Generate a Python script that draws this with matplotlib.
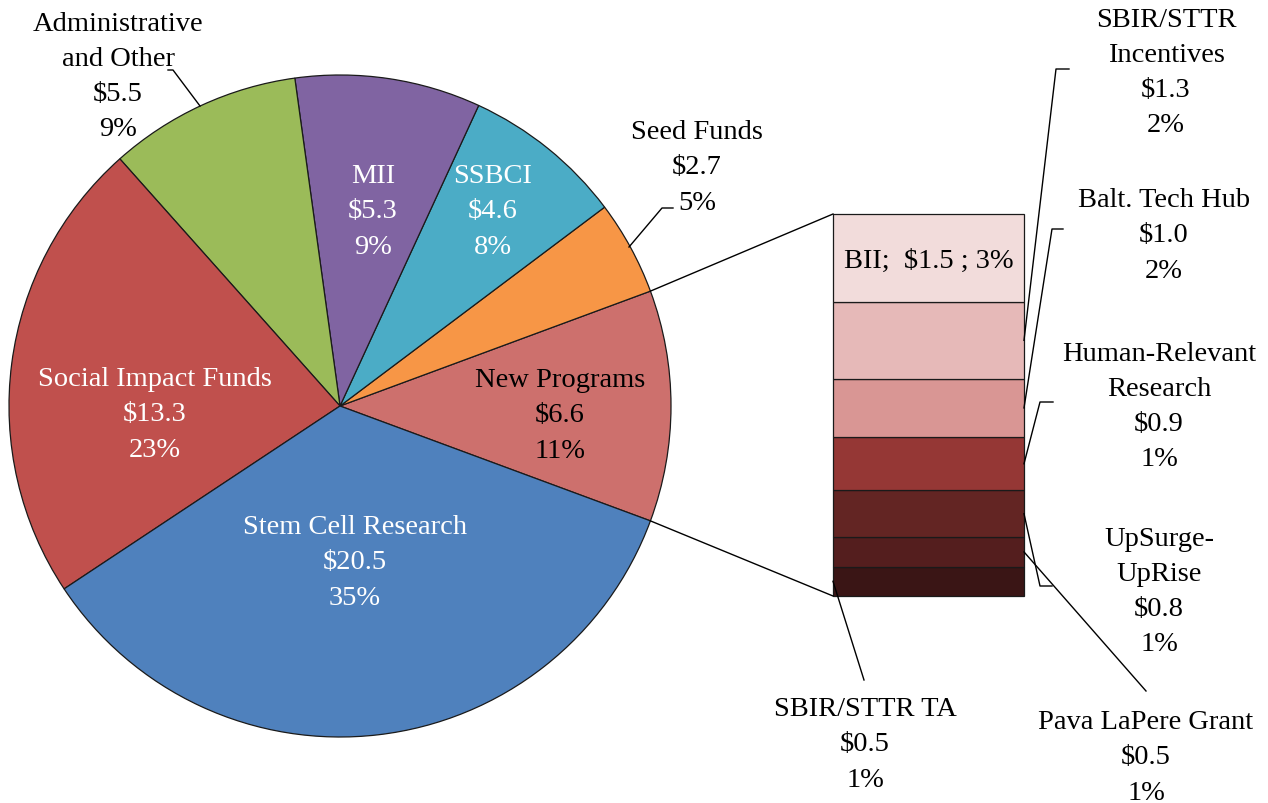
import numpy as np
import matplotlib
matplotlib.use("Agg")
import matplotlib.pyplot as plt

# dados do grafico (milhoes de dolares)
fatias = ["New Programs", "Seed Funds", "SSBCI", "MII", "Administrative\nand Other",
          "Social Impact Funds", "Stem Cell Research"]
valores = [6.6, 2.7, 4.6, 5.3, 5.5, 13.3, 20.5]
percentuais = ["11%", "5%", "8%", "9%", "9%", "23%", "35%"]
cores_pizza = ["#CD706D", "#F79646", "#4BACC6", "#8064A2", "#9BBB59", "#C0504D", "#4F81BD"]

# detalhamento de New Programs (de baixo para cima)
barra_nomes = ["SBIR/STTR TA", "Pava LaPere Grant", "UpSurge-\nUpRise", "Human-Relevant\nResearch",
               "Balt. Tech Hub", "SBIR/STTR\nIncentives", "BII"]
barra_valores = [0.5, 0.5, 0.8, 0.9, 1.0, 1.3, 1.5]
barra_pct = ["1%", "1%", "1%", "1%", "2%", "2%", "3%"]
cores_barra = ["#3A1515", "#541E1E", "#632523", "#953735", "#D99694", "#E6B9B8", "#F2DCDB"]

W, H = 1268, 804
plt.rcParams["font.family"] = ["Liberation Serif", "DejaVu Serif"]
FS = 20.5
ESP = 1.53
DY = 3  # ajuste vertical dos rotulos

fig = plt.figure(figsize=(W / 100, H / 100), dpi=100)
ax = fig.add_axes([0, 0, 1, 1])

def Y(y):
    return H - y

centro = (340, Y(407))
raio = 331
total = sum(valores)
inicio = -valores[0] / total * 360 / 2

ax.pie(valores, colors=cores_pizza, startangle=inicio, counterclock=True,
       center=centro, radius=raio,
       wedgeprops=dict(edgecolor="#1a1a1a", linewidth=0.9))

# barra de detalhamento
bx, bw = 833, 191
escala = (597 - 215) / sum(barra_valores)
bases = np.concatenate([[0], np.cumsum(barra_valores)[:-1]])
ax.bar(bx + bw / 2, np.array(barra_valores) * escala, bottom=Y(597) + bases * escala,
       width=bw, color=cores_barra, edgecolor="#1a1a1a", linewidth=0.9)
meios = Y(597) + (bases + np.array(barra_valores) / 2) * escala
topo_barra = Y(597) + sum(barra_valores) * escala

# linhas ligando a pizza a barra
a1 = np.deg2rad(-inicio)
a0 = np.deg2rad(inicio)
ax.plot([centro[0] + raio * np.cos(a1), bx], [centro[1] + raio * np.sin(a1), topo_barra],
        color="black", lw=1)
ax.plot([centro[0] + raio * np.cos(a0), bx], [centro[1] + raio * np.sin(a0), Y(597)],
        color="black", lw=1)

def rotulo(x, y, nome, valor, pct, cor="black"):
    ax.text(x, Y(y + DY), f"{nome}\n${valor:.1f}\n{pct}", ha="center", va="center",
            fontsize=FS, color=cor, linespacing=ESP)

# rotulos da pizza
v = dict(zip(fatias, zip(valores, percentuais)))
rotulo(155, 412, "Social Impact Funds", *v["Social Impact Funds"], cor="white")
rotulo(355, 560, "Stem Cell Research", *v["Stem Cell Research"], cor="white")
rotulo(373, 209, "MII", *v["MII"], cor="white")
rotulo(493, 209, "SSBCI", *v["SSBCI"], cor="white")
rotulo(560, 413, "New Programs", *v["New Programs"])
rotulo(118, 74, "Administrative\nand Other", *v["Administrative\nand Other"])
rotulo(697, 165, "Seed Funds", *v["Seed Funds"])
ax.plot([200, 173, 168], [Y(107), Y(71), Y(71)], color="black", lw=1)
ax.plot([629, 662, 673], [Y(248), Y(209), Y(209)], color="black", lw=1)

# rotulos da barra
b = dict(zip(barra_nomes, zip(barra_valores, barra_pct)))
ax.text(bx + bw / 2, meios[6] - 2, f"BII;  ${b['BII'][0]:.1f} ; {b['BII'][1]}",
        ha="center", va="center", fontsize=FS)
rotulo(1166, 70, "SBIR/STTR\nIncentives", *b["SBIR/STTR\nIncentives"])
rotulo(1164, 233, "Balt. Tech Hub", *b["Balt. Tech Hub"])
rotulo(1159, 404, "Human-Relevant\nResearch", *b["Human-Relevant\nResearch"])
rotulo(1159, 589, "UpSurge-\nUpRise", *b["UpSurge-\nUpRise"])
rotulo(1146, 755, "Pava LaPere Grant", *b["Pava LaPere Grant"])
rotulo(865, 742, "SBIR/STTR TA", *b["SBIR/STTR TA"])

bd = bx + bw
ax.plot([bd, 1056, 1069], [meios[5], Y(70), Y(70)], color="black", lw=1)
ax.plot([bd, 1052, 1063], [meios[4], Y(230), Y(230)], color="black", lw=1)
ax.plot([bd, 1040, 1053], [meios[3], Y(403), Y(403)], color="black", lw=1)
ax.plot([bd, 1040, 1052], [meios[2], Y(587), Y(587)], color="black", lw=1)
ax.plot([bd, 1146], [meios[1], Y(692)], color="black", lw=1)
ax.plot([bx, 864], [meios[0], Y(681)], color="black", lw=1)

ax.set_xlim(0, W)
ax.set_ylim(0, H)
ax.set_aspect("equal")
ax.axis("off")
fig.savefig("out.png", dpi=100)
